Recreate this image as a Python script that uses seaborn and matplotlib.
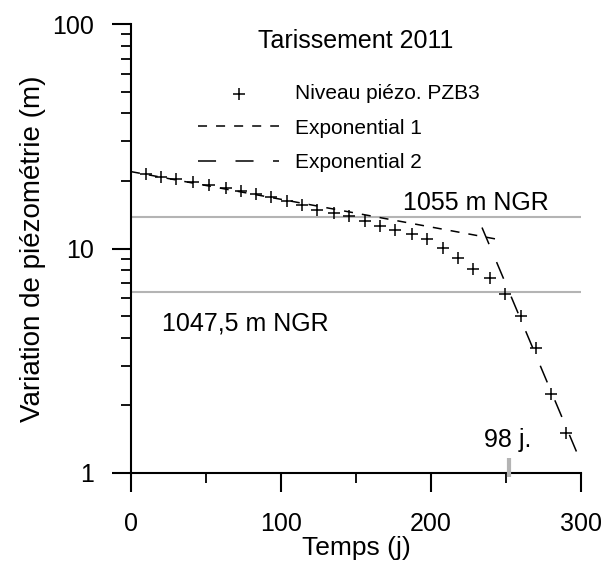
import matplotlib
matplotlib.use("Agg")
import matplotlib.pyplot as plt
from matplotlib.ticker import FixedLocator, NullFormatter, FixedFormatter
import seaborn as sns

# Niveau piezo PZB3 (jours depuis le debut du tarissement, variation en m)
days = [10, 20, 30, 41, 52, 63, 73, 83, 93, 104, 114, 124, 135, 145,
        156, 166, 176, 187, 197, 208, 218, 228, 239, 249, 260, 270, 280, 290]
levels = [21.4, 20.8, 20.4, 19.7, 19.1, 18.6, 18.0, 17.5, 17.0, 16.35, 15.6,
          14.9, 14.35, 13.9, 13.2, 12.65, 12.1, 11.6, 11.05, 10.1, 9.05, 8.07,
          7.41, 6.25, 5.0, 3.61, 2.26, 1.51]

# fits (straight lines on the log axis, given by their ends)
exp1_days = [0, 244]
exp1_levels = [22.0, 11.0]
exp2_days = [234, 298]
exp2_levels = [12.4, 1.2]

# reference levels
ngr_levels = [13.87, 6.375]
ngr_labels = ["1055 m NGR", "1047,5 m NGR"]
duration_day = 252

sns.set_theme(style="ticks")
plt.rcParams["font.family"] = ["Liberation Sans", "DejaVu Sans"]
plt.rcParams["lines.scale_dashes"] = False
plt.rcParams["text.color"] = "black"
plt.rcParams["axes.labelcolor"] = "black"

fig = plt.figure(figsize=(6.05, 5.74), dpi=100)
ax = fig.add_axes([131 / 605, 101 / 574, 450 / 605, 449 / 574])

for lev in ngr_levels:
    ax.axhline(lev, color="#b4b4b4", lw=1.5, zorder=1)

sns.scatterplot(x=days, y=levels, marker="+", s=75, color="black",
                linewidth=1.1, ax=ax, label="Niveau piézo. PZB3", zorder=3)
sns.lineplot(x=exp1_days, y=exp1_levels, color="black", lw=1.1,
             linestyle=(0, (6.5, 6.5)), ax=ax, label="Exponential 1")
sns.lineplot(x=exp2_days, y=exp2_levels, color="black", lw=1.1,
             linestyle=(0, (13, 14)), ax=ax, label="Exponential 2")

# duration marker on the time axis
ax.plot([duration_day, duration_day], [1.166, 0.96], color="#b4b4b4",
        lw=3, clip_on=False, zorder=5, solid_capstyle="butt")

ax.set_yscale("log")
ax.set_xlim(0, 300)
ax.set_ylim(1, 100)

ax.xaxis.set_major_locator(FixedLocator([0, 100, 200, 300]))
ax.xaxis.set_minor_locator(FixedLocator([50, 150, 250]))
ax.yaxis.set_major_locator(FixedLocator([1, 10, 100]))
ax.yaxis.set_major_formatter(FixedFormatter(["1", "10", "100"]))
ax.yaxis.set_minor_locator(FixedLocator([2, 3, 4, 5, 6, 7, 8, 9,
                                         20, 30, 40, 50, 60, 70, 80, 90]))
ax.yaxis.set_minor_formatter(NullFormatter())

ax.tick_params(which="major", direction="out", length=14, width=1.5,
               labelsize=18, color="black", labelcolor="black")
ax.tick_params(which="minor", direction="out", length=7, width=1.3,
               color="black")
ax.tick_params(axis="x", which="major", pad=14)
ax.tick_params(axis="y", which="major", pad=13)

for side in ["top", "right"]:
    ax.spines[side].set_visible(False)
for side in ["left", "bottom"]:
    ax.spines[side].set_linewidth(1.5)
    ax.spines[side].set_color("black")

ax.set_xlabel("Temps (j)", fontsize=19, labelpad=0)
ax.set_ylabel("Variation de piézométrie (m)", fontsize=20, labelpad=4)

ax.text(150, 84, "Tarissement 2011", fontsize=18, ha="center", va="center")
ax.text(230, 16.0, ngr_labels[0], fontsize=18, ha="center", va="center")
ax.text(76, 4.64, ngr_labels[1], fontsize=18, ha="center", va="center")
ax.text(251, 1.40, "98 j.", fontsize=18, ha="center", va="center")

ax.legend(loc="upper left", bbox_to_anchor=(0.149, 0.866), frameon=False,
          fontsize=15, handlelength=3.9, handletextpad=0.76,
          labelspacing=0.75, borderpad=0, borderaxespad=0)

fig.savefig("out.png", dpi=100)
